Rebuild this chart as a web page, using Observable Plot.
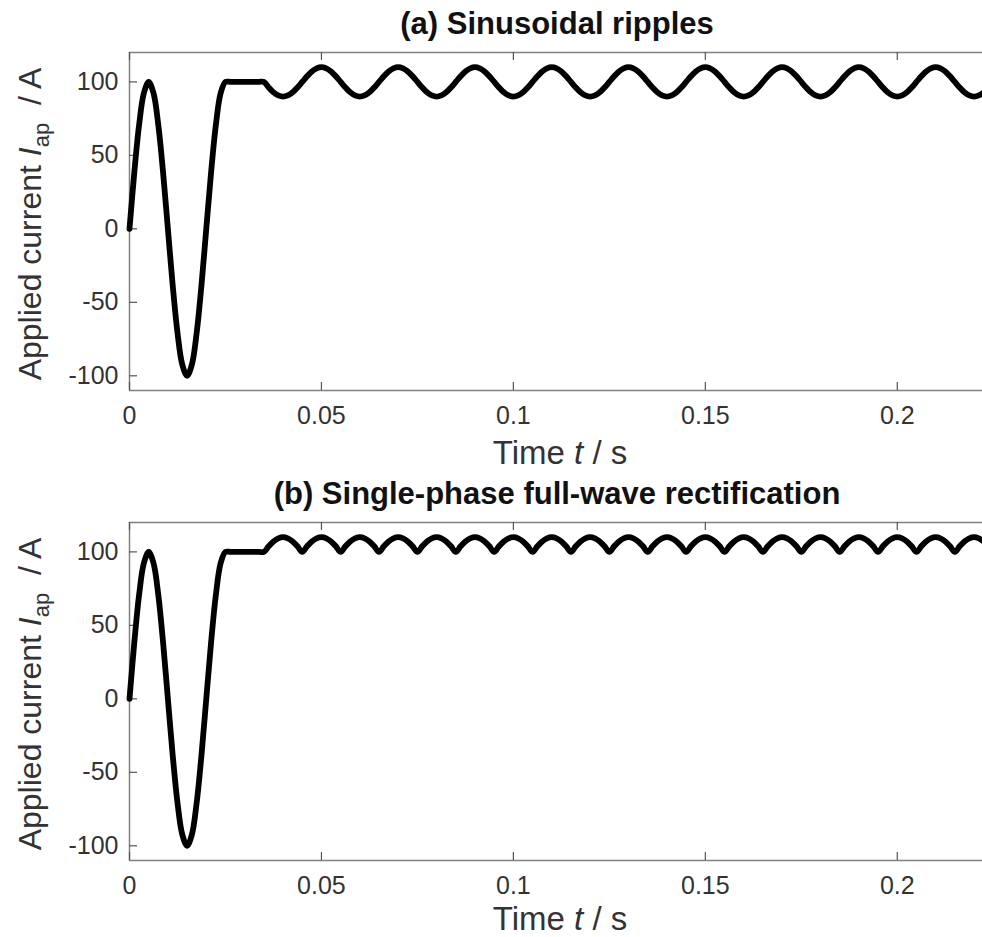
<!DOCTYPE html>
<html>
<head>
<meta charset="utf-8">
<script src="https://cdn.jsdelivr.net/npm/d3@7"></script>
<script src="https://cdn.jsdelivr.net/npm/@observablehq/plot@0.6"></script>
<style>
  html, body { margin: 0; padding: 0; background: #fff; }
  #chart { position: relative; width: 982px; height: 937px; overflow: hidden; }
  #chart svg { position: absolute; left: 0; display: block; }
</style>
</head>
<body>
<div id="chart"></div>
<script>
// ---- Text ----
const panelTitles = ["(a) Sinusoidal ripples", "(b) Single-phase full-wave rectification"];
const xLabelParts = ["Time ", "t", " / s"];
const yLabelParts = ["Applied current ", "I", "ap", "  / A"];

// ---- Ticks ----
const xTicks = [0, 0.05, 0.1, 0.15, 0.2];
const xTickLabels = ["0", "0.05", "0.1", "0.15", "0.2"];
const yTicks = [-100, -50, 0, 50, 100];
const yTickLabels = ["-100", "-50", "0", "50", "100"];
const xDomain = [0, 0.2222];
const yDomain = [-110, 120];

// ---- Sampled applied current (A), read every 0.00125 s starting at t = 0 ----
const sampleStart = 0;
const sampleStep = 0.00125;

// shared start-up part, t = 0 ... 0.03375 s
const startup = [
  0, 38.3, 70.7, 92.4, 100, 92.4, 70.7, 38.3,
  0, -38.3, -70.7, -92.4, -100, -92.4, -70.7, -38.3,
  0, 38.3, 70.7, 92.4, 100, 100, 100, 100,
  100, 100, 100, 100
];

// (a) sinusoidal ripples, from t = 0.035 s
const rippleA = [
  100, 96.2, 92.9, 90.8, 90, 90.8, 92.9, 96.2, 100, 103.8, 107.1, 109.2, 110, 109.2, 107.1, 103.8,
  100, 96.2, 92.9, 90.8, 90, 90.8, 92.9, 96.2, 100, 103.8, 107.1, 109.2, 110, 109.2, 107.1, 103.8,
  100, 96.2, 92.9, 90.8, 90, 90.8, 92.9, 96.2, 100, 103.8, 107.1, 109.2, 110, 109.2, 107.1, 103.8,
  100, 96.2, 92.9, 90.8, 90, 90.8, 92.9, 96.2, 100, 103.8, 107.1, 109.2, 110, 109.2, 107.1, 103.8,
  100, 96.2, 92.9, 90.8, 90, 90.8, 92.9, 96.2, 100, 103.8, 107.1, 109.2, 110, 109.2, 107.1, 103.8,
  100, 96.2, 92.9, 90.8, 90, 90.8, 92.9, 96.2, 100, 103.8, 107.1, 109.2, 110, 109.2, 107.1, 103.8,
  100, 96.2, 92.9, 90.8, 90, 90.8, 92.9, 96.2, 100, 103.8, 107.1, 109.2, 110, 109.2, 107.1, 103.8,
  100, 96.2, 92.9, 90.8, 90, 90.8, 92.9, 96.2, 100, 103.8, 107.1, 109.2, 110, 109.2, 107.1, 103.8,
  100, 96.2, 92.9, 90.8, 90, 90.8, 92.9, 96.2, 100, 103.8, 107.1, 109.2, 110, 109.2, 107.1, 103.8,
  100, 96.2, 92.9, 90.8, 90, 90.8, 92.9
];

// (b) full-wave rectified ripples, from t = 0.035 s
const rippleB = [
  100, 103.8, 107.1, 109.2, 110, 109.2, 107.1, 103.8,
  100, 103.8, 107.1, 109.2, 110, 109.2, 107.1, 103.8,
  100, 103.8, 107.1, 109.2, 110, 109.2, 107.1, 103.8,
  100, 103.8, 107.1, 109.2, 110, 109.2, 107.1, 103.8,
  100, 103.8, 107.1, 109.2, 110, 109.2, 107.1, 103.8,
  100, 103.8, 107.1, 109.2, 110, 109.2, 107.1, 103.8,
  100, 103.8, 107.1, 109.2, 110, 109.2, 107.1, 103.8,
  100, 103.8, 107.1, 109.2, 110, 109.2, 107.1, 103.8,
  100, 103.8, 107.1, 109.2, 110, 109.2, 107.1, 103.8,
  100, 103.8, 107.1, 109.2, 110, 109.2, 107.1, 103.8,
  100, 103.8, 107.1, 109.2, 110, 109.2, 107.1, 103.8,
  100, 103.8, 107.1, 109.2, 110, 109.2, 107.1, 103.8,
  100, 103.8, 107.1, 109.2, 110, 109.2, 107.1, 103.8,
  100, 103.8, 107.1, 109.2, 110, 109.2, 107.1, 103.8,
  100, 103.8, 107.1, 109.2, 110, 109.2, 107.1, 103.8,
  100, 103.8, 107.1, 109.2, 110, 109.2, 107.1, 103.8,
  100, 103.8, 107.1, 109.2, 110, 109.2, 107.1, 103.8,
  100, 103.8, 107.1, 109.2, 110, 109.2, 107.1, 103.8,
  100, 103.8, 107.1, 109.2, 110, 109.2, 107.1
];

const FONT = '"Liberation Sans", Arial, Helvetica, sans-serif';
const TEXT = "#333333";
const AXIS = "#808080";

function toRows(values) {
  return values.map((v, i) => ({ t: sampleStart + i * sampleStep, current: v }));
}

function panel(rows, title, top, xLabelY) {
  const W = 982, H = 470, mL = 129, mR = 0, mT = 52, mB = 80;
  const frameH = H - mT - mB, frameW = W - mL - mR, tick = 8;
  const svg = Plot.plot({
    width: W, height: H,
    marginLeft: mL, marginRight: mR, marginTop: mT, marginBottom: mB,
    style: { fontFamily: FONT, fontSize: "25px", color: TEXT, background: "transparent", overflow: "visible" },
    x: { domain: xDomain },
    y: { domain: yDomain },
    marks: [
      Plot.ruleY([yDomain[1]], { stroke: AXIS, strokeWidth: 1.5 }),
      Plot.ruleY([yDomain[0]], { stroke: AXIS, strokeWidth: 1.5 }),
      Plot.ruleX([xDomain[0]], { stroke: AXIS, strokeWidth: 1.5 }),
      Plot.tickX(xTicks, { x: d => d, insetTop: frameH - tick, stroke: "#555", strokeWidth: 1.2 }),
      Plot.tickX(xTicks, { x: d => d, insetBottom: frameH - tick, stroke: "#555", strokeWidth: 1.2 }),
      Plot.tickY(yTicks, { y: d => d, insetRight: frameW - tick, stroke: "#555", strokeWidth: 1.2 }),
      Plot.axisX({ ticks: xTicks, anchor: "bottom", tickSize: 0, tickPadding: 16, label: null,
                   tickFormat: d => xTickLabels[xTicks.indexOf(d)], fontSize: 25, fill: TEXT,
                   fontFamily: FONT }),
      Plot.axisY({ ticks: yTicks, anchor: "left", tickSize: 0, tickPadding: 11, label: null,
                   tickFormat: d => yTickLabels[yTicks.indexOf(d)], fontSize: 25, fill: TEXT,
                   fontFamily: FONT }),
      Plot.line(rows, { x: "t", y: "current", stroke: "#000", strokeWidth: 5.8, curve: "catmull-rom" })
    ]
  });
  svg.style.top = top + "px";
  const s = d3.select(svg);
  s.append("text")
    .attr("x", 557).attr("y", 34)
    .attr("text-anchor", "middle")
    .attr("font-family", FONT).attr("font-weight", "bold").attr("font-size", 31)
    .attr("fill", "#111")
    .text(title);
  const xl = s.append("text")
    .attr("x", 560).attr("y", xLabelY)
    .attr("text-anchor", "middle")
    .attr("font-family", FONT).attr("font-size", 33).attr("fill", TEXT)
    .style("white-space", "pre");
  xl.append("tspan").text(xLabelParts[0]);
  xl.append("tspan").attr("font-style", "italic").text(xLabelParts[1]);
  xl.append("tspan").text(xLabelParts[2]);
  const yl = s.append("text")
    .attr("transform", "translate(41,224) rotate(-90)")
    .attr("text-anchor", "middle")
    .attr("font-family", FONT).attr("font-size", 32).attr("fill", TEXT)
    .style("white-space", "pre");
  yl.append("tspan").text(yLabelParts[0]);
  yl.append("tspan").attr("font-style", "italic").text(yLabelParts[1]);
  yl.append("tspan").attr("font-size", 22).attr("dy", 8).text(yLabelParts[2]);
  yl.append("tspan").attr("dy", -8).text(yLabelParts[3]);
  document.getElementById("chart").appendChild(svg);
}

panel(toRows(startup.concat(rippleA)), panelTitles[0], 0, 464);
panel(toRows(startup.concat(rippleB)), panelTitles[1], 470, 460);
</script>
</body>
</html>
